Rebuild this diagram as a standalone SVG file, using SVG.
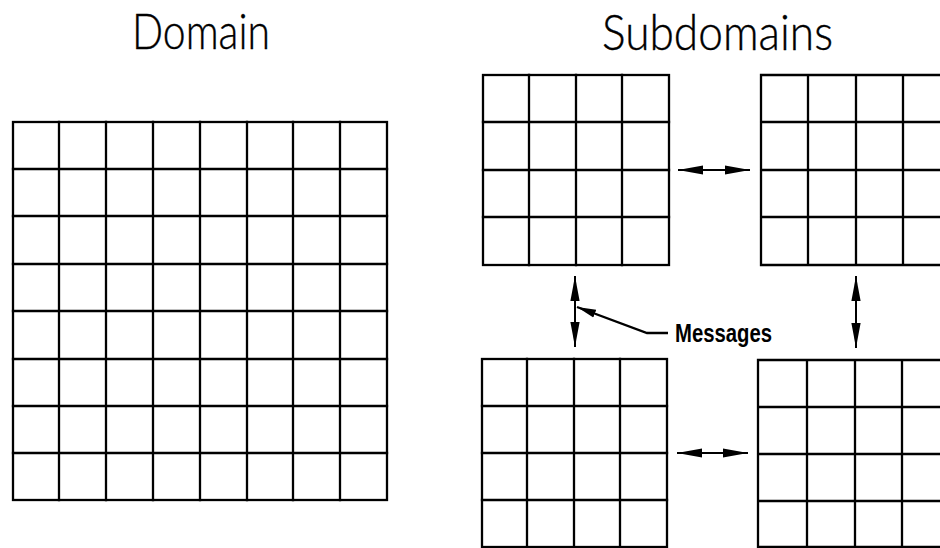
<svg xmlns="http://www.w3.org/2000/svg" width="940" height="548" viewBox="0 0 940 548">
  <style>
    .grid { fill: none; stroke: #000; stroke-width: 2.3; stroke-linecap: square; }
    .title { font-family: "Lato", "Open Sans", "DejaVu Sans", sans-serif; font-weight: 300; font-size: 50px; fill: #000; stroke: #000; stroke-width: 0.4; }
    .label { font-family: "Liberation Sans", Arial, sans-serif; font-weight: bold; font-size: 26px; fill: #000; }
    .msg { fill: none; stroke: #000; stroke-width: 2; }
    .lead { fill: none; stroke: #000; stroke-width: 2.4; }
  </style>
  <defs>
    <marker id="head" viewBox="0 -6 26 12" refX="25" refY="0" markerWidth="26" markerHeight="12" markerUnits="userSpaceOnUse" orient="auto-start-reverse">
      <path d="M0,-4.6 L25,0 L0,4.6 z" fill="#000"/>
    </marker>
    <marker id="leadhead" viewBox="0 -6 20 12" refX="19" refY="0" markerWidth="20" markerHeight="12" markerUnits="userSpaceOnUse" orient="auto">
      <path d="M0,-4.2 L19,0 L0,4.2 z" fill="#000"/>
    </marker>
  </defs>

  <!-- headings -->
  <text class="title" x="132" y="49" textLength="138" lengthAdjust="spacingAndGlyphs">Domain</text>
  <text class="title" x="602" y="50" textLength="231" lengthAdjust="spacingAndGlyphs">Subdomains</text>

  <!-- full domain: 8 x 8 cells -->
  <g id="domain">
    <rect class="grid" x="13" y="122" width="374" height="378"/>
    <path class="grid" d="M59,122 V500 M106,122 V500 M153,122 V500 M200,122 V500 M247,122 V500 M293,122 V500 M340,122 V500
                          M13,169 H387 M13,216 H387 M13,264 H387 M13,311 H387 M13,359 H387 M13,406 H387 M13,453 H387"/>
  </g>

  <!-- four subdomains: 4 x 4 cells each -->
  <g id="sub-top-left">
    <rect class="grid" x="483" y="75" width="186" height="190"/>
    <path class="grid" d="M529,75 V265 M576,75 V265 M622,75 V265 M483,122 H669 M483,170 H669 M483,217 H669"/>
  </g>
  <g id="sub-top-right">
    <path class="grid" d="M761,75 V265 M808,75 V265 M856,75 V265 M903,75 V265
                          M761,75 H945 M761,122 H945 M761,170 H945 M761,217 H945 M761,265 H945"/>
  </g>
  <g id="sub-bottom-left">
    <rect class="grid" x="482" y="359" width="185" height="188"/>
    <path class="grid" d="M527,359 V547 M574,359 V547 M620,359 V547 M482,406 H667 M482,453 H667 M482,500 H667"/>
  </g>
  <g id="sub-bottom-right">
    <path class="grid" d="M758,360 V547 M807,360 V547 M855,360 V547 M902,360 V547
                          M758,360 H945 M758,407 H945 M758,454 H945 M758,501 H945 M758,547 H945"/>
  </g>

  <!-- message exchanges between neighbouring subdomains -->
  <g id="connectors">
    <line class="msg" x1="678" y1="170" x2="750" y2="170" marker-start="url(#head)" marker-end="url(#head)"/>
    <line class="msg" x1="677" y1="453" x2="748" y2="453" marker-start="url(#head)" marker-end="url(#head)"/>
    <line class="msg" x1="575" y1="276" x2="575" y2="347" marker-start="url(#head)" marker-end="url(#head)"/>
    <line class="msg" x1="856" y1="276" x2="856" y2="348" marker-start="url(#head)" marker-end="url(#head)"/>
    <polyline class="lead" points="668,333 647,333 577,307" marker-end="url(#leadhead)"/>
  </g>

  <g id="messages-label">
    <text class="label" x="675" y="342" textLength="97" lengthAdjust="spacingAndGlyphs">Messages</text>
  </g>
</svg>
